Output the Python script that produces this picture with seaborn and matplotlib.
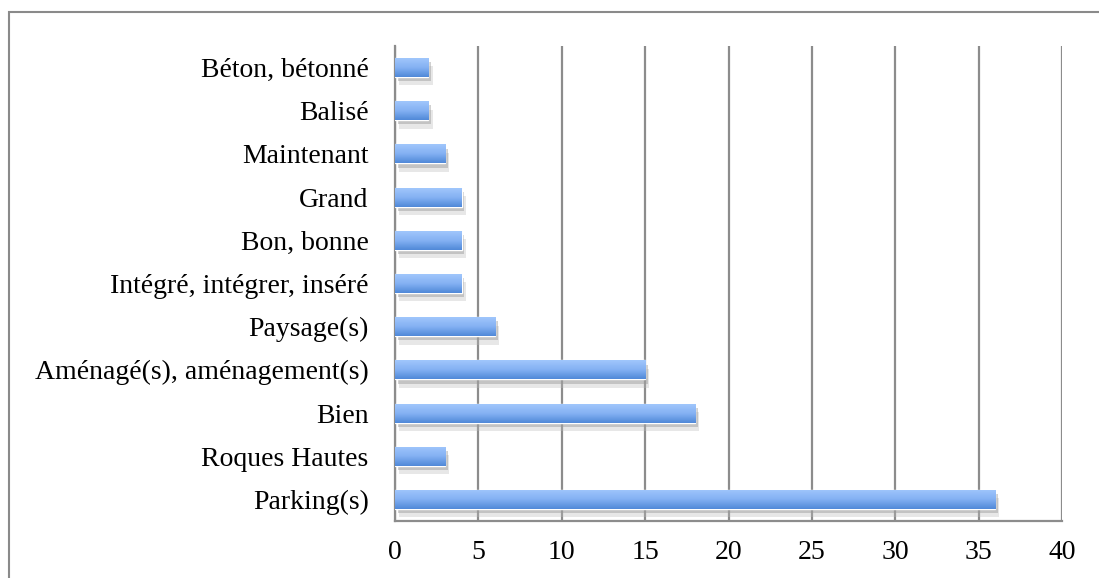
import numpy as np
import matplotlib
matplotlib.use("Agg")
import matplotlib.pyplot as plt
import matplotlib.patheffects as pe
from matplotlib.colors import LinearSegmentedColormap
from matplotlib.patches import Rectangle
import seaborn as sns
import pandas as pd

categories = ["Béton, bétonné", "Balisé", "Maintenant", "Grand", "Bon, bonne",
              "Intégré, intégrer, inséré", "Paysage(s)", "Aménagé(s), aménagement(s)",
              "Bien", "Roques Hautes", "Parking(s)"]
values = [2, 2, 3, 4, 4, 4, 6, 15, 18, 3, 36]
x_ticks = [0, 5, 10, 15, 20, 25, 30, 35, 40]

sns.set_theme(style="white")
plt.rcParams['font.family'] = ['Liberation Serif', 'DejaVu Serif']

W, H = 1099, 578
fig = plt.figure(figsize=(W / 100, H / 100), dpi=100)
ax = fig.add_axes([395 / W, 1 - 521 / H, (1062 - 395) / W, (521 - 46) / H])

df = pd.DataFrame({"cat": categories, "val": values})
sns.barplot(data=df, y="cat", x="val", orient="h", width=0.44, color="#6fa0e8",
            ax=ax, zorder=3)

grid_c = "#8c8c8c"
ax.set_xlim(0, 40)
ax.set_xticks(x_ticks)
ax.set_xticklabels([str(t) for t in x_ticks])
ax.set_ylim(len(categories) - 0.5, -0.5)
ax.xaxis.grid(True, color=grid_c, lw=1.6, zorder=0)
ax.yaxis.grid(False)
ax.set_xlabel("")
ax.set_ylabel("")

for s in ["top", "right"]:
    ax.spines[s].set_visible(False)
for s in ["left", "bottom"]:
    ax.spines[s].set_color(grid_c)
    ax.spines[s].set_linewidth(1.6)

ax.tick_params(axis="x", which="major", length=6, width=1.6, color=grid_c,
               labelsize=20, pad=8, labelcolor="black")
ax.tick_params(axis="y", which="major", length=0, labelsize=20, pad=19,
               labelcolor="black")
ax.set_yticks(np.arange(-0.5, len(categories), 1.0), minor=True)
ax.tick_params(axis="y", which="minor", length=6, width=1.6, color=grid_c)

# gradient fill + soft shadow on the bars drawn by seaborn
cmap = LinearSegmentedColormap.from_list("g", ["#a0c6fc", "#84b1f3", "#5089d8"])
grad = np.linspace(0, 1, 64).reshape(-1, 1)
for p in list(ax.patches):
    x0, y0 = p.get_x(), p.get_y()
    w, h = p.get_width(), p.get_height()
    p.set_path_effects([
        pe.SimplePatchShadow(offset=(3, -6), shadow_rgbFace="#bbbbbb", alpha=0.35),
        pe.SimplePatchShadow(offset=(2, -3), shadow_rgbFace="#999999", alpha=0.45),
        pe.Normal()])
    im = ax.imshow(grad, cmap=cmap, aspect="auto",
                   extent=(x0, x0 + w, y0 + h, y0), zorder=4, interpolation="bilinear")
    im.set_clip_path(p)

ax.set_xlim(0, 40)
ax.set_ylim(len(categories) - 0.5, -0.5)

fig.patches.append(Rectangle((9 / W, -0.1), 1.2, 1 - 12 / H + 0.1, transform=fig.transFigure,
                             fill=False, edgecolor="#8a8a8a", lw=1.5))

fig.savefig("out.png", dpi=100)
